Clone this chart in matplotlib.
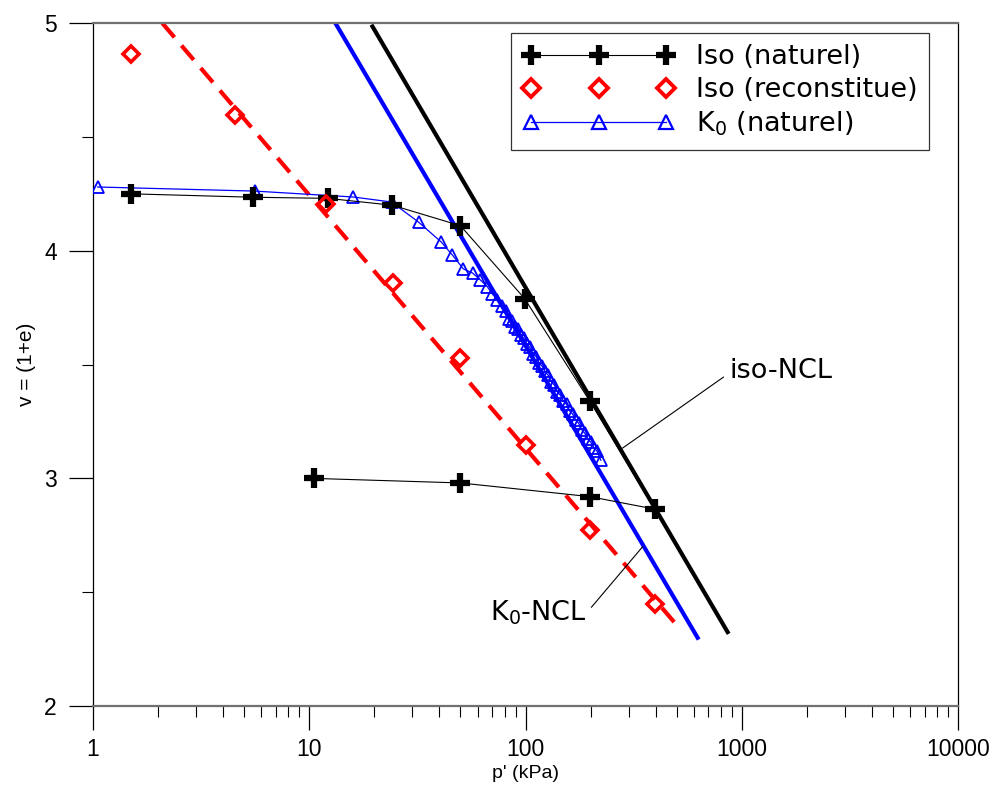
import matplotlib.pyplot as plt
from matplotlib.lines import Line2D

plt.rcParams.update(
    {
        "font.family": ["Liberation Sans", "DejaVu Sans"],
        "font.size": 15,
        "xtick.direction": "out",
        "ytick.direction": "out",
        "xtick.major.size": 17,
        "xtick.minor.size": 8,
        "ytick.major.size": 17,
        "ytick.minor.size": 8,
        "xtick.major.width": 0.9,
        "xtick.minor.width": 0.8,
        "ytick.major.width": 0.9,
        "ytick.minor.width": 0.8,
    }
)

BLACK = "#000000"
RED = "#FF0000"
BLUE = "#0000FF"
WIDE = ["DejaVu Sans"]  # reference text is wider than Arial

# Iso (naturel): loading then unloading
iso_nat_p = [1.5, 5.5, 12.2, 24.2, 50, 99, 198, 396, 198, 50, 10.5]
iso_nat_v = [4.25, 4.235, 4.23, 4.20, 4.11, 3.79, 3.34, 2.865, 2.92, 2.98, 3.00]

# Iso (reconstitue)
iso_rec_p = [1.5, 4.55, 11.9, 24.5, 50, 100, 198, 396]
iso_rec_v = [4.865, 4.595, 4.205, 3.86, 3.53, 3.145, 2.775, 2.45]

# K0 (naturel)
k0_p = [1.05, 5.6, 16.0, 24.0, 32.0, 40.8, 45.9, 51.6, 56.9, 61.9, 66.7,
        70.2, 74.0, 77.5, 80.9, 83.7, 86.6, 89.5, 92.0, 95.0, 98.2,
        101.5, 104.8, 108.3, 111.9, 115.5, 119.4, 123.3, 127.4, 131.5, 135.9,
        140.4, 145.0, 149.8, 154.7, 159.8, 165.1, 170.5, 176.1, 181.9, 187.9,
        194.1, 200.5, 207.1, 213.9, 223.0]
k0_v = [4.28, 4.262, 4.236, 4.214, 4.126, 4.038, 3.981, 3.92, 3.902, 3.871, 3.841,
        3.81, 3.785, 3.757, 3.735, 3.70, 3.69, 3.665, 3.655, 3.63, 3.615,
        3.59, 3.575, 3.548, 3.535, 3.508, 3.492, 3.47, 3.452, 3.425, 3.41,
        3.38, 3.365, 3.34, 3.325, 3.297, 3.282, 3.258, 3.242, 3.214, 3.198,
        3.175, 3.158, 3.135, 3.12, 3.08]

# Normal compression lines (end points)
iso_ncl_p = [19.6, 860]
iso_ncl_v = [4.985, 2.325]
k0_ncl_p = [13.2, 625]
k0_ncl_v = [5.0, 2.30]
rec_ncl_p = [2.09, 522]
rec_ncl_v = [5.0, 2.335]

fig = plt.figure(figsize=(9.94, 7.96), dpi=100)
ax = fig.add_axes([0.0936, 0.113, 0.8702, 0.858])

ax.plot(rec_ncl_p, rec_ncl_v, color=RED, lw=3.0, ls=(0, (4.5, 2.6)), zorder=2)
ax.plot(k0_ncl_p, k0_ncl_v, color=BLUE, lw=3.0, zorder=2)
ax.plot(iso_ncl_p, iso_ncl_v, color=BLACK, lw=3.0, zorder=2)

ax.plot(k0_p, k0_v, color=BLUE, lw=0.9, marker="^", ms=8, mfc="none",
        mec=BLUE, mew=1.3, zorder=3)
ax.plot(iso_nat_p, iso_nat_v, color=BLACK, lw=0.8, marker="+", ms=15,
        mew=4.5, zorder=4)
ax.plot(iso_rec_p, iso_rec_v, ls="none", marker="D", ms=8, mfc="none",
        mec=RED, mew=2.6, zorder=4)

ax.set_xscale("log")
ax.set_xlim(1, 10000)
ax.set_ylim(2, 5)
ax.set_yticks([2, 3, 4, 5])
ax.set_yticks([2.5, 3.5, 4.5], minor=True)
ax.set_xticks([1, 10, 100, 1000, 10000])
ax.xaxis.set_major_formatter(plt.FuncFormatter(lambda x, _: f"{x:g}"))
ax.xaxis.set_minor_formatter(plt.NullFormatter())
ax.tick_params(axis="both", which="major", labelsize=16.5)
ax.tick_params(axis="x", which="both", pad=6)
ax.tick_params(axis="y", which="both", pad=9)

for side in ("top", "bottom"):
    ax.spines[side].set_color("#707070")
    ax.spines[side].set_linewidth(1.6)
for side in ("left", "right"):
    ax.spines[side].set_color(BLACK)
    ax.spines[side].set_linewidth(0.9)

ax.set_xlabel("p' (kPa)", fontsize=14, labelpad=3)
ax.set_ylabel("v = (1+e)", fontsize=15, labelpad=6)

# annotations
ax.annotate("iso-NCL", xy=(281, 3.133), xytext=(880, 3.47), fontsize=19.5,
            family=WIDE, va="center", ha="left",
            arrowprops=dict(arrowstyle="-", color=BLACK, lw=0.8, relpos=(0, 0.45),
                            shrinkA=3, shrinkB=0))
ax.annotate("K$_0$-NCL", xy=(348, 2.70), xytext=(192, 2.41), fontsize=19.5,
            family=WIDE, va="center", ha="right",
            arrowprops=dict(arrowstyle="-", color=BLACK, lw=0.8, relpos=(1, 0.5),
                            shrinkA=2, shrinkB=0))

handles = [
    Line2D([0], [0], color=BLACK, lw=0.8, marker="+", ms=15, mew=4.5,
           label="Iso (naturel)"),
    Line2D([0], [0], ls="none", marker="D", ms=9, mfc="none", mec=RED,
           mew=2.8, label="Iso (reconstitue)"),
    Line2D([0], [0], color=BLUE, lw=0.9, marker="^", ms=10, mfc="none",
           mec=BLUE, mew=1.6, label="K$_0$ (naturel)"),
]
leg = ax.legend(handles=handles, loc="upper right", bbox_to_anchor=(0.9665, 0.9854),
                numpoints=3, handlelength=5.6, prop={"family": WIDE, "size": 19.5},
                frameon=True, fancybox=False, borderpad=0.42, labelspacing=0.25,
                handletextpad=0.8, borderaxespad=0)
leg.get_frame().set_edgecolor(BLACK)
leg.get_frame().set_linewidth(0.9)

fig.savefig("out.png", dpi=100)
